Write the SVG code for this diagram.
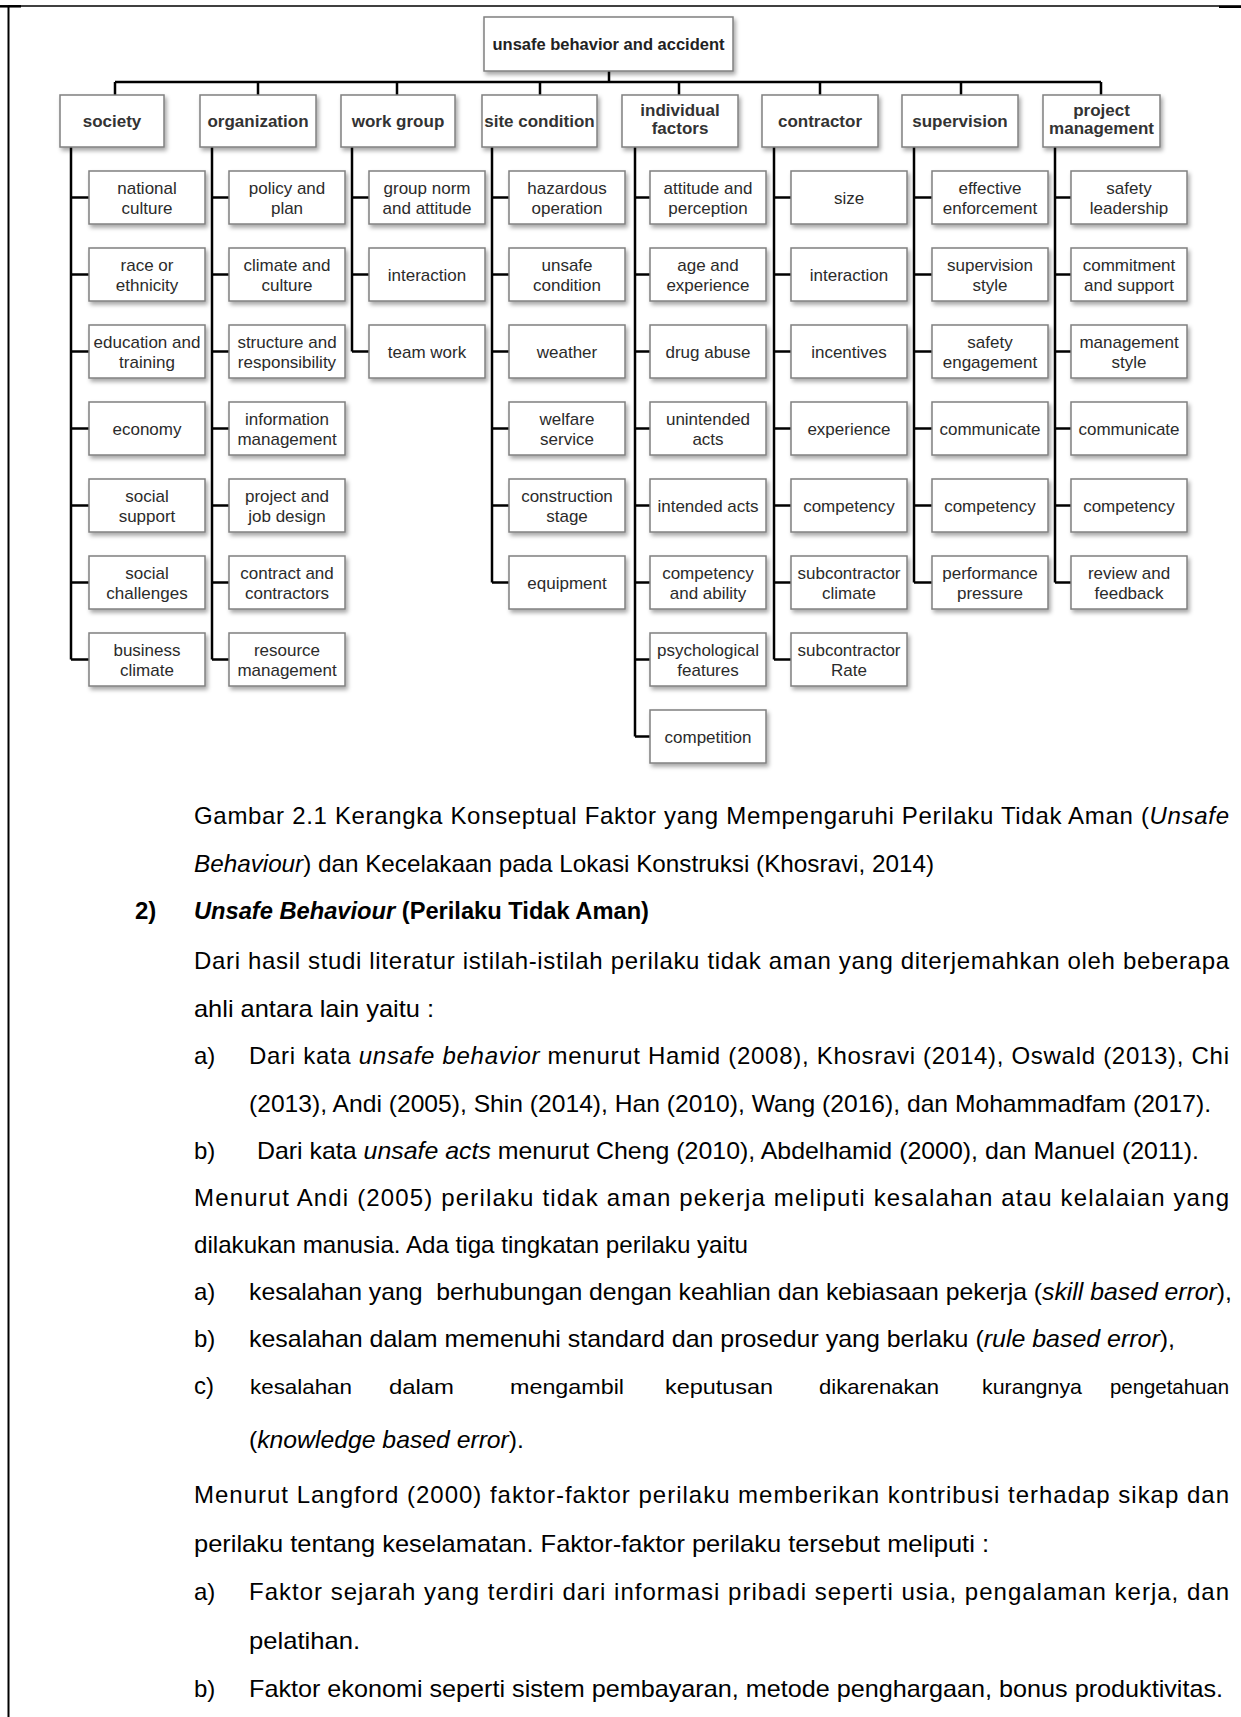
<svg xmlns="http://www.w3.org/2000/svg" width="1241" height="1717" viewBox="0 0 1241 1717">
<defs>
<filter id="sh" x="-10%" y="-15%" width="125%" height="150%">
<feDropShadow dx="2" dy="3" stdDeviation="2" flood-color="#000" flood-opacity="0.35"/>
</filter>
</defs>
<style>
.box{fill:#fff;stroke:#808080;stroke-width:1.5;filter:url(#sh)}
.c{font-family:"Liberation Sans",Arial,sans-serif;font-size:17px;fill:#2b2b2b;text-anchor:middle}
.h{font-family:"Liberation Sans",Arial,sans-serif;font-size:17px;font-weight:bold;fill:#333;text-anchor:middle}
.r{font-family:"Liberation Sans",Arial,sans-serif;font-size:16.5px;font-weight:bold;fill:#222;text-anchor:middle}
.ln{fill:none;stroke:#000;stroke-width:2.5}
.t{font-family:"Liberation Sans",Arial,sans-serif;font-size:24px;fill:#000}
.w{font-size:21px}
.i{font-style:italic}
.b{font-weight:bold}
.pg{stroke:#000;fill:none}
</style>
<rect width="1241" height="1717" fill="#fff"/>
<!-- page border -->
<line class="pg" x1="8.5" y1="6" x2="8.5" y2="1717" stroke-width="2"/>
<line class="pg" x1="8" y1="6" x2="1219" y2="6" stroke-width="1.5"/>
<line class="pg" x1="0" y1="6.3" x2="21" y2="6.3" stroke-width="2.5"/>
<line class="pg" x1="1219" y1="6.6" x2="1241" y2="6.6" stroke-width="2.8"/>

<g id="connectors">
<path class="ln" d="M609 71V82M115 82H1101M115 82V95M258 82V95M397 82V95M540 82V95M679 82V95M820 82V95M961 82V95M1101 82V95"/>
<path class="ln" d="M71 147V659.5M71 197.5H89M71 274.5H89M71 351.5H89M71 428.5H89M71 505.5H89M71 582.5H89M71 659.5H89"/>
<path class="ln" d="M212 147V659.5M212 197.5H229M212 274.5H229M212 351.5H229M212 428.5H229M212 505.5H229M212 582.5H229M212 659.5H229"/>
<path class="ln" d="M352 147V351.5M352 197.5H369M352 274.5H369M352 351.5H369"/>
<path class="ln" d="M492 147V582.5M492 197.5H509M492 274.5H509M492 351.5H509M492 428.5H509M492 505.5H509M492 582.5H509"/>
<path class="ln" d="M635 147V736.5M635 197.5H650M635 274.5H650M635 351.5H650M635 428.5H650M635 505.5H650M635 582.5H650M635 659.5H650M635 736.5H650"/>
<path class="ln" d="M774 147V659.5M774 197.5H791M774 274.5H791M774 351.5H791M774 428.5H791M774 505.5H791M774 582.5H791M774 659.5H791"/>
<path class="ln" d="M914 147V582.5M914 197.5H932M914 274.5H932M914 351.5H932M914 428.5H932M914 505.5H932M914 582.5H932"/>
<path class="ln" d="M1055 147V582.5M1055 197.5H1071M1055 274.5H1071M1055 351.5H1071M1055 428.5H1071M1055 505.5H1071M1055 582.5H1071"/>
</g>

<g id="root"><rect class="box" x="484" y="17" width="249" height="54"/><text class="r" x="608.5" y="50">unsafe behavior and accident</text></g>

<g id="society"><rect class="box" x="60" y="95" width="104" height="52"/><text class="h" x="112" y="127">society</text></g>
<g id="organization"><rect class="box" x="200" y="95" width="116" height="52"/><text class="h" x="258" y="127">organization</text></g>
<g id="work-group"><rect class="box" x="341" y="95" width="114" height="52"/><text class="h" x="398" y="127">work group</text></g>
<g id="site-condition"><rect class="box" x="482" y="95" width="115" height="52"/><text class="h" x="539.5" y="127">site condition</text></g>
<g id="individual-factors"><rect class="box" x="622" y="95" width="116" height="52"/><text class="h" x="680" y="116">individual</text><text class="h" x="680" y="134">factors</text></g>
<g id="contractor"><rect class="box" x="762" y="95" width="116" height="52"/><text class="h" x="820" y="127">contractor</text></g>
<g id="supervision"><rect class="box" x="902" y="95" width="116" height="52"/><text class="h" x="960" y="127">supervision</text></g>
<g id="project-management"><rect class="box" x="1043" y="95" width="117" height="52"/><text class="h" x="1101.5" y="116">project</text><text class="h" x="1101.5" y="134">management</text></g>

<!-- society children -->
<g id="national-culture"><rect class="box" x="89" y="171" width="116" height="53"/><text class="c" x="147" y="193.5">national</text><text class="c" x="147" y="213.5">culture</text></g>
<g id="race-or-ethnicity"><rect class="box" x="89" y="248" width="116" height="53"/><text class="c" x="147" y="270.5">race or</text><text class="c" x="147" y="290.5">ethnicity</text></g>
<g id="education-and-training"><rect class="box" x="89" y="325" width="116" height="53"/><text class="c" x="147" y="347.5">education and</text><text class="c" x="147" y="367.5">training</text></g>
<g id="economy"><rect class="box" x="89" y="402" width="116" height="53"/><text class="c" x="147" y="434.5">economy</text></g>
<g id="social-support"><rect class="box" x="89" y="479" width="116" height="53"/><text class="c" x="147" y="501.5">social</text><text class="c" x="147" y="521.5">support</text></g>
<g id="social-challenges"><rect class="box" x="89" y="556" width="116" height="53"/><text class="c" x="147" y="578.5">social</text><text class="c" x="147" y="598.5">challenges</text></g>
<g id="business-climate"><rect class="box" x="89" y="633" width="116" height="53"/><text class="c" x="147" y="655.5">business</text><text class="c" x="147" y="675.5">climate</text></g>

<!-- organization children -->
<g id="policy-and-plan"><rect class="box" x="229" y="171" width="116" height="53"/><text class="c" x="287" y="193.5">policy and</text><text class="c" x="287" y="213.5">plan</text></g>
<g id="climate-and-culture"><rect class="box" x="229" y="248" width="116" height="53"/><text class="c" x="287" y="270.5">climate and</text><text class="c" x="287" y="290.5">culture</text></g>
<g id="structure-and-responsibility"><rect class="box" x="229" y="325" width="116" height="53"/><text class="c" x="287" y="347.5">structure and</text><text class="c" x="287" y="367.5">responsibility</text></g>
<g id="information-management"><rect class="box" x="229" y="402" width="116" height="53"/><text class="c" x="287" y="424.5">information</text><text class="c" x="287" y="444.5">management</text></g>
<g id="project-and-job-design"><rect class="box" x="229" y="479" width="116" height="53"/><text class="c" x="287" y="501.5">project and</text><text class="c" x="287" y="521.5">job design</text></g>
<g id="contract-and-contractors"><rect class="box" x="229" y="556" width="116" height="53"/><text class="c" x="287" y="578.5">contract and</text><text class="c" x="287" y="598.5">contractors</text></g>
<g id="resource-management"><rect class="box" x="229" y="633" width="116" height="53"/><text class="c" x="287" y="655.5">resource</text><text class="c" x="287" y="675.5">management</text></g>

<!-- work group children -->
<g id="group-norm"><rect class="box" x="369" y="171" width="116" height="53"/><text class="c" x="427" y="193.5">group norm</text><text class="c" x="427" y="213.5">and attitude</text></g>
<g id="wg-interaction"><rect class="box" x="369" y="248" width="116" height="53"/><text class="c" x="427" y="280.5">interaction</text></g>
<g id="team-work"><rect class="box" x="369" y="325" width="116" height="53"/><text class="c" x="427" y="357.5">team work</text></g>

<!-- site condition children -->
<g id="hazardous-operation"><rect class="box" x="509" y="171" width="116" height="53"/><text class="c" x="567" y="193.5">hazardous</text><text class="c" x="567" y="213.5">operation</text></g>
<g id="unsafe-condition"><rect class="box" x="509" y="248" width="116" height="53"/><text class="c" x="567" y="270.5">unsafe</text><text class="c" x="567" y="290.5">condition</text></g>
<g id="weather"><rect class="box" x="509" y="325" width="116" height="53"/><text class="c" x="567" y="357.5">weather</text></g>
<g id="welfare-service"><rect class="box" x="509" y="402" width="116" height="53"/><text class="c" x="567" y="424.5">welfare</text><text class="c" x="567" y="444.5">service</text></g>
<g id="construction-stage"><rect class="box" x="509" y="479" width="116" height="53"/><text class="c" x="567" y="501.5">construction</text><text class="c" x="567" y="521.5">stage</text></g>
<g id="equipment"><rect class="box" x="509" y="556" width="116" height="53"/><text class="c" x="567" y="588.5">equipment</text></g>

<!-- individual factors children -->
<g id="attitude-and-perception"><rect class="box" x="650" y="171" width="116" height="53"/><text class="c" x="708" y="193.5">attitude and</text><text class="c" x="708" y="213.5">perception</text></g>
<g id="age-and-experience"><rect class="box" x="650" y="248" width="116" height="53"/><text class="c" x="708" y="270.5">age and</text><text class="c" x="708" y="290.5">experience</text></g>
<g id="drug-abuse"><rect class="box" x="650" y="325" width="116" height="53"/><text class="c" x="708" y="357.5">drug abuse</text></g>
<g id="unintended-acts"><rect class="box" x="650" y="402" width="116" height="53"/><text class="c" x="708" y="424.5">unintended</text><text class="c" x="708" y="444.5">acts</text></g>
<g id="intended-acts"><rect class="box" x="650" y="479" width="116" height="53"/><text class="c" x="708" y="511.5">intended acts</text></g>
<g id="competency-and-ability"><rect class="box" x="650" y="556" width="116" height="53"/><text class="c" x="708" y="578.5">competency</text><text class="c" x="708" y="598.5">and ability</text></g>
<g id="psychological-features"><rect class="box" x="650" y="633" width="116" height="53"/><text class="c" x="708" y="655.5">psychological</text><text class="c" x="708" y="675.5">features</text></g>
<g id="competition"><rect class="box" x="650" y="710" width="116" height="53"/><text class="c" x="708" y="742.5">competition</text></g>

<!-- contractor children -->
<g id="size"><rect class="box" x="791" y="171" width="116" height="53"/><text class="c" x="849" y="203.5">size</text></g>
<g id="ct-interaction"><rect class="box" x="791" y="248" width="116" height="53"/><text class="c" x="849" y="280.5">interaction</text></g>
<g id="incentives"><rect class="box" x="791" y="325" width="116" height="53"/><text class="c" x="849" y="357.5">incentives</text></g>
<g id="experience"><rect class="box" x="791" y="402" width="116" height="53"/><text class="c" x="849" y="434.5">experience</text></g>
<g id="ct-competency"><rect class="box" x="791" y="479" width="116" height="53"/><text class="c" x="849" y="511.5">competency</text></g>
<g id="subcontractor-climate"><rect class="box" x="791" y="556" width="116" height="53"/><text class="c" x="849" y="578.5">subcontractor</text><text class="c" x="849" y="598.5">climate</text></g>
<g id="subcontractor-rate"><rect class="box" x="791" y="633" width="116" height="53"/><text class="c" x="849" y="655.5">subcontractor</text><text class="c" x="849" y="675.5">Rate</text></g>

<!-- supervision children -->
<g id="effective-enforcement"><rect class="box" x="932" y="171" width="116" height="53"/><text class="c" x="990" y="193.5">effective</text><text class="c" x="990" y="213.5">enforcement</text></g>
<g id="supervision-style"><rect class="box" x="932" y="248" width="116" height="53"/><text class="c" x="990" y="270.5">supervision</text><text class="c" x="990" y="290.5">style</text></g>
<g id="safety-engagement"><rect class="box" x="932" y="325" width="116" height="53"/><text class="c" x="990" y="347.5">safety</text><text class="c" x="990" y="367.5">engagement</text></g>
<g id="sv-communicate"><rect class="box" x="932" y="402" width="116" height="53"/><text class="c" x="990" y="434.5">communicate</text></g>
<g id="sv-competency"><rect class="box" x="932" y="479" width="116" height="53"/><text class="c" x="990" y="511.5">competency</text></g>
<g id="performance-pressure"><rect class="box" x="932" y="556" width="116" height="53"/><text class="c" x="990" y="578.5">performance</text><text class="c" x="990" y="598.5">pressure</text></g>

<!-- project management children -->
<g id="safety-leadership"><rect class="box" x="1071" y="171" width="116" height="53"/><text class="c" x="1129" y="193.5">safety</text><text class="c" x="1129" y="213.5">leadership</text></g>
<g id="commitment-and-support"><rect class="box" x="1071" y="248" width="116" height="53"/><text class="c" x="1129" y="270.5">commitment</text><text class="c" x="1129" y="290.5">and support</text></g>
<g id="management-style"><rect class="box" x="1071" y="325" width="116" height="53"/><text class="c" x="1129" y="347.5">management</text><text class="c" x="1129" y="367.5">style</text></g>
<g id="pm-communicate"><rect class="box" x="1071" y="402" width="116" height="53"/><text class="c" x="1129" y="434.5">communicate</text></g>
<g id="pm-competency"><rect class="box" x="1071" y="479" width="116" height="53"/><text class="c" x="1129" y="511.5">competency</text></g>
<g id="review-and-feedback"><rect class="box" x="1071" y="556" width="116" height="53"/><text class="c" x="1129" y="578.5">review and</text><text class="c" x="1129" y="598.5">feedback</text></g>

<!-- body text -->
<g id="body-text">
<text class="t" x="194" y="824" textLength="1035" lengthAdjust="spacing">Gambar 2.1 Kerangka Konseptual Faktor yang Mempengaruhi Perilaku Tidak Aman (<tspan class="i">Unsafe</tspan></text>
<text class="t" x="194" y="872" textLength="740" lengthAdjust="spacingAndGlyphs"><tspan class="i">Behaviour</tspan>) dan Kecelakaan pada Lokasi Konstruksi (Khosravi, 2014)</text>
<text class="t b" x="135" y="919">2)</text>
<text class="t b" x="194" y="919" textLength="455" lengthAdjust="spacingAndGlyphs"><tspan class="i">Unsafe Behaviour</tspan> (Perilaku Tidak Aman)</text>
<text class="t" x="194" y="969" textLength="1035" lengthAdjust="spacing">Dari hasil studi literatur istilah-istilah perilaku tidak aman yang diterjemahkan oleh beberapa</text>
<text class="t" x="194" y="1017" textLength="240" lengthAdjust="spacingAndGlyphs">ahli antara lain yaitu :</text>
<text class="t" x="194" y="1064">a)</text>
<text class="t" x="249" y="1064" textLength="980" lengthAdjust="spacing">Dari kata <tspan class="i">unsafe behavior</tspan> menurut Hamid (2008), Khosravi (2014), Oswald (2013), Chi</text>
<text class="t" x="249" y="1112" textLength="962" lengthAdjust="spacingAndGlyphs">(2013), Andi (2005), Shin (2014), Han (2010), Wang (2016), dan Mohammadfam (2017).</text>
<text class="t" x="194" y="1159">b)</text>
<text class="t" x="257" y="1159" textLength="942" lengthAdjust="spacingAndGlyphs">Dari kata <tspan class="i">unsafe acts</tspan> menurut Cheng (2010), Abdelhamid (2000), dan Manuel (2011).</text>
<text class="t" x="194" y="1206" textLength="1035" lengthAdjust="spacing">Menurut Andi (2005) perilaku tidak aman pekerja meliputi kesalahan atau kelalaian yang</text>
<text class="t" x="194" y="1253" textLength="554" lengthAdjust="spacingAndGlyphs">dilakukan manusia. Ada tiga tingkatan perilaku yaitu</text>
<text class="t" x="194" y="1300">a)</text>
<text class="t" x="249" y="1300" textLength="983" lengthAdjust="spacingAndGlyphs" xml:space="preserve">kesalahan yang  berhubungan dengan keahlian dan kebiasaan pekerja (<tspan class="i">skill based error</tspan>),</text>
<text class="t" x="194" y="1347">b)</text>
<text class="t" x="249" y="1347" textLength="926" lengthAdjust="spacingAndGlyphs">kesalahan dalam memenuhi standard dan prosedur yang berlaku (<tspan class="i">rule based error</tspan>),</text>
<text class="t" x="194" y="1394">c)</text>
<text class="t w" x="250" y="1394" textLength="102" lengthAdjust="spacingAndGlyphs">kesalahan</text>
<text class="t w" x="389" y="1394" textLength="65" lengthAdjust="spacingAndGlyphs">dalam</text>
<text class="t w" x="510" y="1394" textLength="114" lengthAdjust="spacingAndGlyphs">mengambil</text>
<text class="t w" x="665" y="1394" textLength="108" lengthAdjust="spacingAndGlyphs">keputusan</text>
<text class="t w" x="819" y="1394" textLength="120" lengthAdjust="spacingAndGlyphs">dikarenakan</text>
<text class="t w" x="982" y="1394" textLength="100" lengthAdjust="spacingAndGlyphs">kurangnya</text>
<text class="t w" x="1110" y="1394" textLength="119" lengthAdjust="spacingAndGlyphs">pengetahuan</text>
<text class="t" x="249" y="1448" textLength="275" lengthAdjust="spacingAndGlyphs">(<tspan class="i">knowledge based error</tspan>).</text>
<text class="t" x="194" y="1503" textLength="1035" lengthAdjust="spacing">Menurut Langford (2000) faktor-faktor perilaku memberikan kontribusi terhadap sikap dan</text>
<text class="t" x="194" y="1552" textLength="795" lengthAdjust="spacingAndGlyphs">perilaku tentang keselamatan. Faktor-faktor perilaku tersebut meliputi :</text>
<text class="t" x="194" y="1600">a)</text>
<text class="t" x="249" y="1600" textLength="980" lengthAdjust="spacing">Faktor sejarah yang terdiri dari informasi pribadi seperti usia, pengalaman kerja, dan</text>
<text class="t" x="249" y="1649" textLength="111" lengthAdjust="spacingAndGlyphs">pelatihan.</text>
<text class="t" x="194" y="1697">b)</text>
<text class="t" x="249" y="1697" textLength="974" lengthAdjust="spacingAndGlyphs">Faktor ekonomi seperti sistem pembayaran, metode penghargaan, bonus produktivitas.</text>
</g>
</svg>
